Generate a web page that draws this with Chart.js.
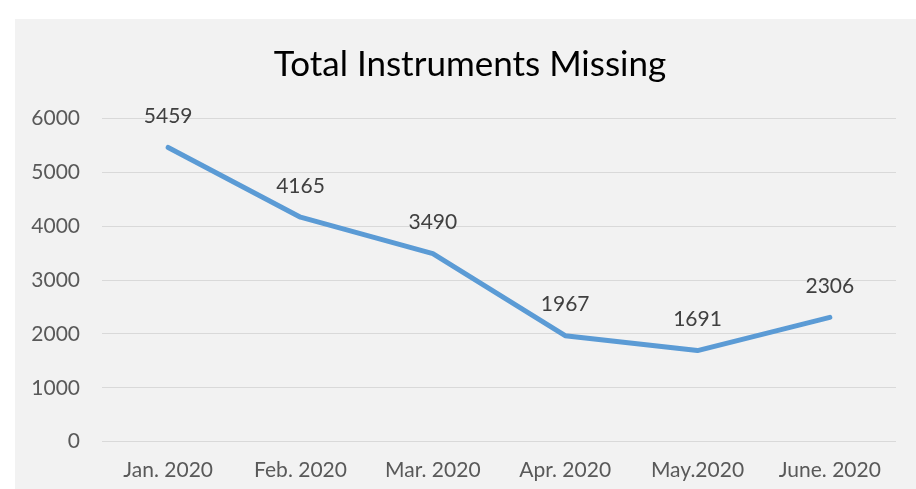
<!DOCTYPE html>
<html>
<head>
<meta charset="utf-8">
<script src="https://cdn.jsdelivr.net/npm/chart.js@4.4.1/dist/chart.umd.min.js"></script>
<style>
  html, body { margin: 0; padding: 0; background: #ffffff; overflow: hidden; }
  #box { position: absolute; left: 15px; top: 19px; width: 910px; height: 470px; background: #f2f2f2; }
  #box canvas { display: block; }
</style>
</head>
<body>
<div id="box"><canvas id="c" width="910" height="470"></canvas></div>
<script>
const chartTitle = "Total Instruments Missing";
const months = ["Jan. 2020", "Feb. 2020", "Mar. 2020", "Apr. 2020", "May.2020", "June. 2020"];
const missing = [5459, 4165, 3490, 1967, 1691, 2306];
const yMin = 0;
const yMax = 6000;
const yStep = 1000;

const FONT = "Lato, 'Open Sans', sans-serif";

const valueLabels = {
  id: 'valueLabels',
  afterDatasetsDraw(chart) {
    const ctx = chart.ctx;
    const meta = chart.getDatasetMeta(0);
    ctx.save();
    ctx.font = "21px " + FONT;
    ctx.fillStyle = "#404040";
    ctx.textAlign = "center";
    ctx.textBaseline = "middle";
    meta.data.forEach((pt, i) => {
      ctx.fillText(String(chart.data.datasets[0].data[i]), pt.x, pt.y - 31);
    });
    ctx.restore();
  }
};

// center the title on the whole box (box extends past the right edge)
const titleShift = {
  id: 'titleShift',
  afterLayout(chart) {
    if (chart.titleBlock) { chart.titleBlock.left += 29; }
  }
};

new Chart(document.getElementById('c'), {
  type: 'line',
  data: {
    labels: months,
    datasets: [{
      data: missing,
      borderColor: '#5b9bd5',
      borderWidth: 5,
      borderCapStyle: 'round',
      borderJoinStyle: 'round',
      pointRadius: 0,
      pointHoverRadius: 0,
      tension: 0,
      fill: false
    }]
  },
  options: {
    responsive: false,
    animation: false,
    devicePixelRatio: 1,
    layout: { padding: { top: 0, right: 29, bottom: 0, left: 0 } },
    plugins: {
      legend: { display: false },
      tooltip: { enabled: false },
      title: {
        display: true,
        text: chartTitle,
        color: '#000000',
        font: { family: FONT, size: 35, weight: 'normal', lineHeight: 1.2 },
        padding: { top: 25, bottom: 32.3 }
      }
    },
    scales: {
      x: {
        offset: true,
        grid: { display: false, drawTicks: false },
        border: { display: false },
        ticks: {
          color: '#595959',
          font: { family: FONT, size: 21 },
          padding: 15.7,
          maxRotation: 0,
          autoSkip: false
        },
        afterFit(scale) { scale.height = 47.3; }
      },
      y: {
        min: yMin,
        max: yMax,
        grid: { color: '#d9d9d9', lineWidth: 1, drawTicks: false },
        border: { display: false },
        ticks: {
          stepSize: yStep,
          color: '#595959',
          font: { family: FONT, size: 21 },
          padding: 22,
          callback: (v) => String(v)
        },
        afterFit(scale) { scale.width = 87; }
      }
    }
  },
  plugins: [valueLabels, titleShift]
});
</script>
</body>
</html>
